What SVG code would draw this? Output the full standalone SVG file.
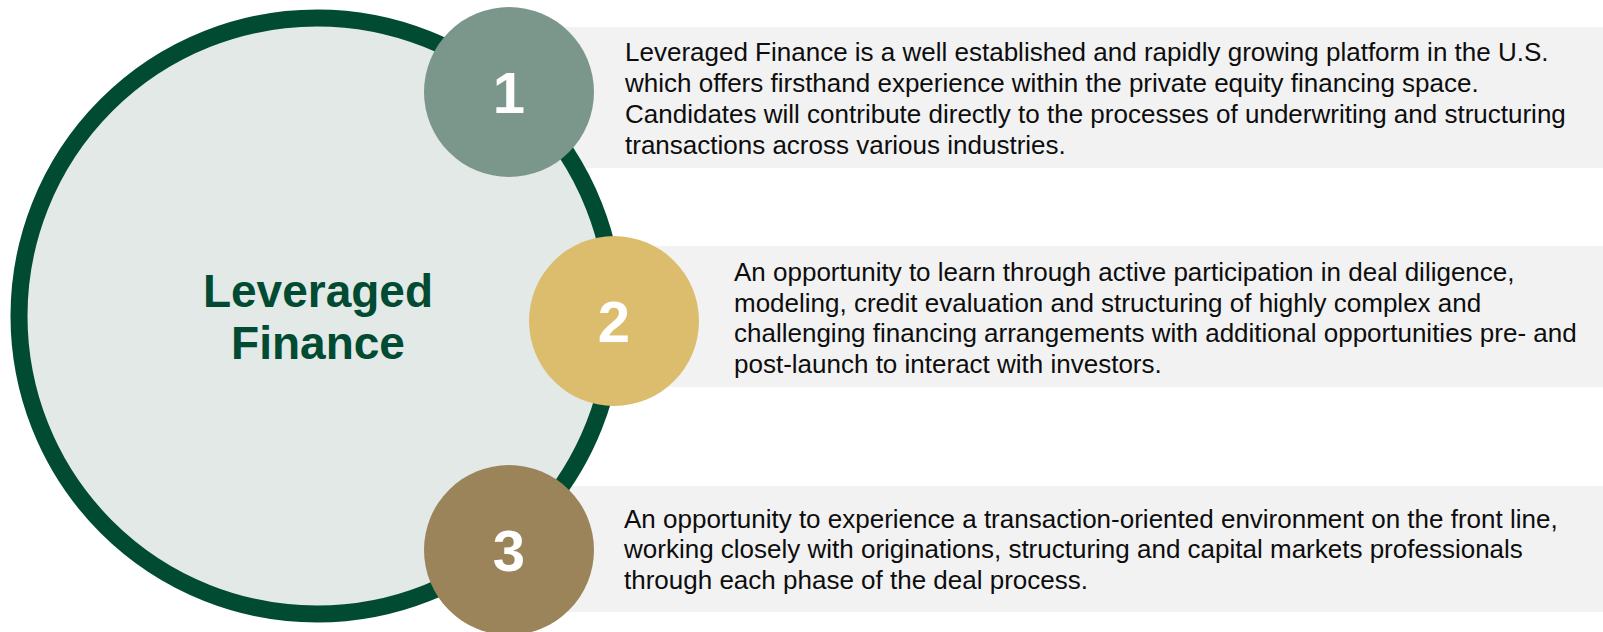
<svg xmlns="http://www.w3.org/2000/svg" width="1603" height="632" viewBox="0 0 1603 632">
<style>
.panel{fill:#F2F2F2}
.body{font-family:"Liberation Sans",Arial,sans-serif;font-size:26px;fill:#0D0D0D}
.num{font-family:"Liberation Sans",Arial,sans-serif;font-size:58px;font-weight:bold;fill:#FFFFFF;text-anchor:middle}
.title{font-family:"Liberation Sans",Arial,sans-serif;font-size:46px;font-weight:bold;fill:#004B32;text-anchor:middle}
</style>
<rect width="1603" height="632" fill="#FFFFFF"/>
<g id="panels">
<rect class="panel" x="509" y="27" width="1094" height="141"/>
<rect class="panel" x="614" y="246" width="989" height="141"/>
<rect class="panel" x="509" y="486" width="1094" height="126"/>
</g>
<g id="hub">
<circle cx="317" cy="316" r="298" fill="#E2E9E7" stroke="#004B32" stroke-width="17"/>
<text class="title" x="318" y="307">Leveraged</text>
<text class="title" x="318" y="359">Finance</text>
</g>
<g id="connectors"></g>
<g id="item1">
<circle cx="509" cy="92" r="85" fill="#7B978B"/>
<text class="num" x="509" y="113">1</text>
<text class="body" x="625" y="61">Leveraged Finance is a well established and rapidly growing platform in the U.S.</text>
<text class="body" x="625" y="92">which offers firsthand experience within the private equity financing space.</text>
<text class="body" x="625" y="123">Candidates will contribute directly to the processes of underwriting and structuring</text>
<text class="body" x="625" y="154">transactions across various industries.</text>
</g>
<g id="item2">
<circle cx="614" cy="321" r="85" fill="#DCBD6D"/>
<text class="num" x="614" y="342">2</text>
<text class="body" x="734" y="281">An opportunity to learn through active participation in deal diligence,</text>
<text class="body" x="734" y="312">modeling, credit evaluation and structuring of highly complex and</text>
<text class="body" x="734" y="342">challenging financing arrangements with additional opportunities pre- and</text>
<text class="body" x="734" y="373">post-launch to interact with investors.</text>
</g>
<g id="item3">
<circle cx="509" cy="550" r="85" fill="#9B845A"/>
<text class="num" x="509" y="571">3</text>
<text class="body" x="624" y="528">An opportunity to experience a transaction-oriented environment on the front line,</text>
<text class="body" x="624" y="558">working closely with originations, structuring and capital markets professionals</text>
<text class="body" x="624" y="589">through each phase of the deal process.</text>
</g>
</svg>
